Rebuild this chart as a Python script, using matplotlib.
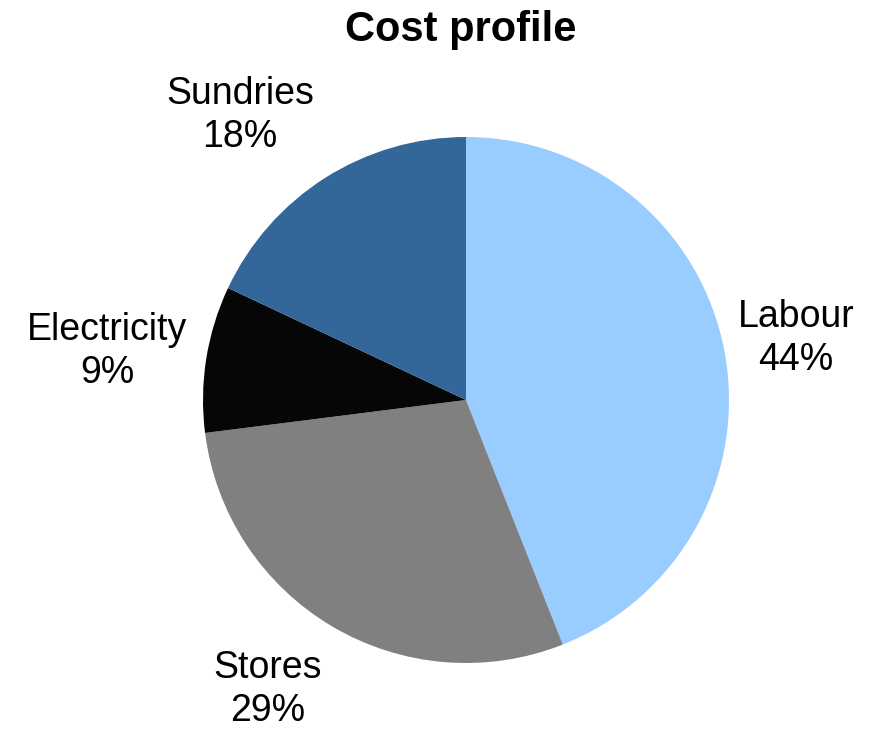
import matplotlib
matplotlib.use("Agg")
import matplotlib.pyplot as plt

categories = ["Labour", "Stores", "Electricity", "Sundries"]
values = [44, 29, 9, 18]
colors = ["#99CCFF", "#808080", "#060606", "#336699"]
# label centres in axis units (pie radius = 1)
label_pos = [(1.255, 0.235), (-0.753, -1.10), (-1.365, 0.183), (-0.859, 1.08)]

plt.rcParams['font.family'] = ['Liberation Sans', 'DejaVu Sans']

W, H = 869, 731
fig = plt.figure(figsize=(W / 100, H / 100), dpi=100)
cx, cy, r = 466, 400, 263
ax = fig.add_axes([(cx - r) / W, (H - cy - r) / H, 2 * r / W, 2 * r / H])

total = sum(values)
wedges, texts = ax.pie(values, colors=colors, startangle=90, counterclock=False,
                       radius=1, wedgeprops=dict(linewidth=0),
                       labels=[f"{c}\n{v / total * 100:.0f}%" for c, v in zip(categories, values)],
                       textprops=dict(fontsize=27, ha='center', va='center', linespacing=1.25))
for t, p in zip(texts, label_pos):
    t.set_position(p)
    t.set_ha('center')
    t.set_va('center')
ax.set_xlim(-1, 1)
ax.set_ylim(-1, 1)
ax.set_aspect('equal')
ax.axis('off')

fig.text(461 / W, 1 - 30 / H, "Cost profile", fontsize=30, fontweight='bold',
         ha='center', va='center')

fig.savefig("out.png", dpi=100)
